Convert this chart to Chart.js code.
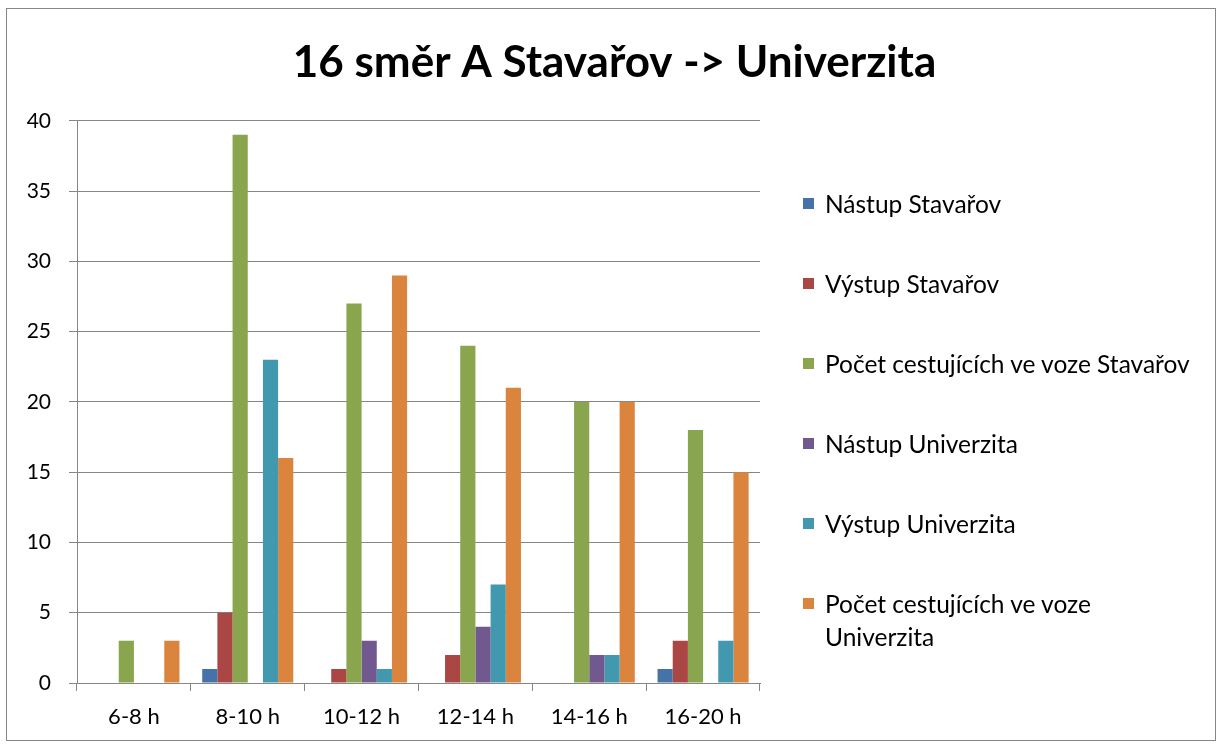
<!DOCTYPE html>
<html>
<head>
<meta charset="utf-8">
<script src="https://cdn.jsdelivr.net/npm/chart.js@4"></script>
<style>
    html, body { margin: 0; padding: 0; background: #fff; }
    #wrap { position: relative; width: 1222px; height: 744px; }
    #frame { position: absolute; left: 6px; top: 8px; width: 1210px; height: 733px; border: 1px solid #868686; box-sizing: border-box; }
    #chart { position: absolute; left: 0; top: 0; }
    #legend { position: absolute; left: 803px; top: 187px; width: 396px; font-family: Lato, "Open Sans", sans-serif; font-size: 24.5px; color: #000; }
    #legend .item { display: flex; align-items: flex-start; line-height: 33px; margin-bottom: 47px; }
    #legend .box { width: 11px; height: 11px; flex: none; margin-top: 11px; margin-right: 11px; }
</style>
</head>
<body>
<div id="wrap">
    <div id="frame"></div>
    <canvas id="chart" width="1222" height="744"></canvas>
    <div id="legend"></div>
</div>
<script>
// chart data
const categories = ['6-8 h', '8-10 h', '10-12 h', '12-14 h', '14-16 h', '16-20 h'];
const seriesNames = [
    'Nástup Stavařov',
    'Výstup Stavařov',
    'Počet cestujících ve voze Stavařov',
    'Nástup Univerzita',
    'Výstup Univerzita',
    'Počet cestujících ve voze Univerzita'
];
const nastupStavarov = [0, 1, 0, 0, 0, 1];
const vystupStavarov = [0, 5, 1, 2, 0, 3];
const vozStavarov = [3, 39, 27, 24, 20, 18];
const nastupUniverzita = [0, 0, 3, 4, 2, 0];
const vystupUniverzita = [0, 23, 1, 7, 2, 3];
const vozUniverzita = [3, 16, 29, 21, 20, 15];
const colors = ['#4572A7', '#AA4643', '#89A54E', '#71588F', '#4198AF', '#DB843D'];

const allSeries = [nastupStavarov, vystupStavarov, vozStavarov, nastupUniverzita, vystupUniverzita, vozUniverzita];
const fontFamily = 'Lato, "Open Sans", sans-serif';

const datasets = allSeries.map((values, i) => ({
    label: seriesNames[i],
    data: values,
    backgroundColor: colors[i],
    borderWidth: 0,
    categoryPercentage: 0.8,
    barPercentage: 1.0
}));

const ctx = document.getElementById('chart').getContext('2d');
const chart = new Chart(ctx, {
    type: 'bar',
    data: { labels: categories, datasets: datasets },
    options: {
        responsive: false,
        animation: false,
        layout: { padding: { left: 7, right: 0, top: 8, bottom: 10 } },
        plugins: {
            legend: { display: false },
            tooltip: { enabled: false },
            title: {
                display: true,
                text: '16 směr A Stavařov -> Univerzita',
                color: '#000',
                font: { family: fontFamily, size: 44, weight: 'bold' },
                padding: { top: 28, bottom: 32 }
            }
        },
        scales: {
            x: {
                grid: { drawOnChartArea: false, drawTicks: true, tickLength: 8, color: '#868686' },
                border: { color: '#868686' },
                ticks: { color: '#000', font: { family: fontFamily, size: 22 }, padding: 13 },
                afterFit: s => { s.height = 51; }
            },
            y: {
                min: 0,
                max: 40,
                ticks: { stepSize: 5, color: '#000', font: { family: fontFamily, size: 21 }, padding: 18 },
                grid: { color: '#868686', tickLength: 8 },
                border: { color: '#868686' },
                afterFit: s => { s.width = 70; }
            },
            // empty right axis that reserves the room used by the legend
            space: {
                position: 'right',
                display: true,
                ticks: { display: false },
                grid: { display: false },
                border: { display: false },
                afterFit: s => { s.width = 462; }
            }
        }
    }
});

// legend built from the chart datasets
const legend = document.getElementById('legend');
chart.data.datasets.forEach(ds => {
    const item = document.createElement('div');
    item.className = 'item';
    const box = document.createElement('span');
    box.className = 'box';
    box.style.background = ds.backgroundColor;
    const text = document.createElement('span');
    text.textContent = ds.label;
    item.appendChild(box);
    item.appendChild(text);
    legend.appendChild(item);
});
</script>
</body>
</html>
